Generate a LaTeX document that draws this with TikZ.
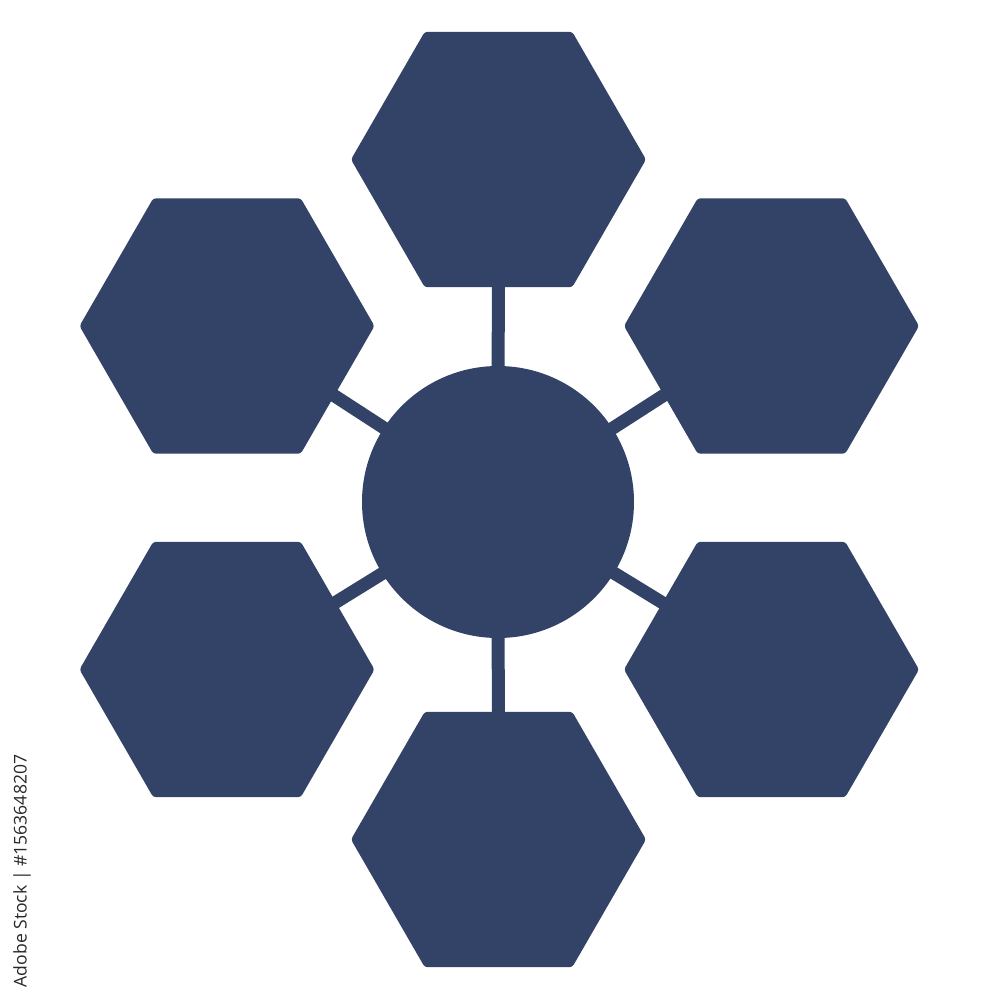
\documentclass[tikz,border=0pt]{standalone}
\usepackage{fontspec}
\setsansfont{Open Sans}
\usetikzlibrary{shapes.geometric}
\definecolor{hexblue}{RGB}{51,66,103}
\definecolor{idgray}{RGB}{40,40,40}
\tikzset{
  hexbox/.style={regular polygon, regular polygon sides=6, minimum size=29.5mm,
    inner sep=0pt, fill=hexblue, rounded corners=0.3mm},
  hubbox/.style={circle, minimum size=27.2mm, inner sep=0pt, fill=hexblue},
  linkbar/.style={draw=hexblue, line width=1.3mm}
}
\begin{document}
\begin{tikzpicture}[x=0.1mm,y=-0.1mm]
\useasboundingbox (0,0) rectangle (1000,1000);
% coordinates for centers
\coordinate (cT) at (498.5,159.5);
\coordinate (cB) at (498.5,839.5);
\coordinate (cUL) at (227,326);
\coordinate (cUR) at (771.5,326);
\coordinate (cLL) at (227,669.5);
\coordinate (cLR) at (771.5,669.5);
\coordinate (cC) at (498,502);
% connectors (drawn behind)
\draw[linkbar] (cC) -- (cT);
\draw[linkbar] (cC) -- (cB);
\draw[linkbar] (cC) -- (cUL);
\draw[linkbar] (cC) -- (cUR);
\draw[linkbar] (cC) -- (cLL);
\draw[linkbar] (cC) -- (cLR);
% shapes
\node[hubbox] (hub) at (cC) {};
\node[hexbox] (hT) at (cT) {};
\node[hexbox] (hB) at (cB) {};
\node[hexbox] (hUL) at (cUL) {};
\node[hexbox] (hUR) at (cUR) {};
\node[hexbox] (hLL) at (cLL) {};
\node[hexbox] (hLR) at (cLR) {};
% side id text
\node[rotate=90, text=idgray, font=\sffamily\fontsize{5pt}{6pt}\selectfont, inner sep=0pt] (sid) at (22,871) {Adobe Stock | \#1563648207};
\end{tikzpicture}
\end{document}
